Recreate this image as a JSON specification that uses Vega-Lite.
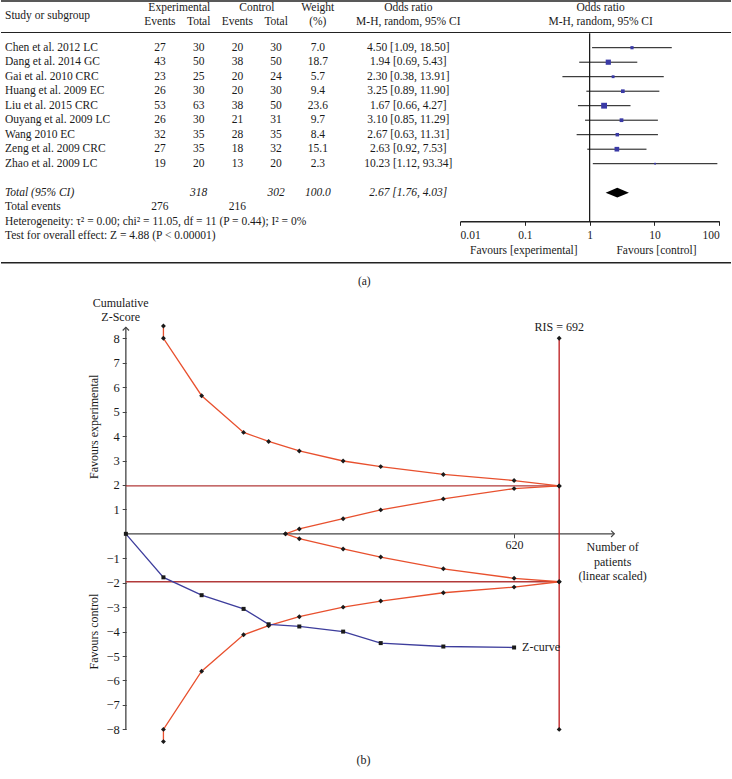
{
  "$schema": "https://vega.github.io/schema/vega-lite/v6.json",
  "width": 732,
  "height": 779,
  "autosize": {"type": "fit", "contains": "padding"},
  "padding": 0,
  "background": "white",
  "config": {
    "view": {"stroke": null},
    "font": "Liberation Serif",
    "text": {"font": "Liberation Serif", "fontSize": 11.5, "color": "#1a1a1a", "baseline": "middle"}
  },
  "datasets": {
    "studies": [
      {"study": "Chen et al. 2012 LC", "ee": 27, "et": 30, "ce": 20, "ct": 30, "w": 7.0, "or": 4.50, "lo": 1.09, "hi": 18.50, "ci": "4.50 [1.09, 18.50]"},
      {"study": "Dang et al. 2014 GC", "ee": 43, "et": 50, "ce": 38, "ct": 50, "w": 18.7, "or": 1.94, "lo": 0.69, "hi": 5.43, "ci": "1.94 [0.69, 5.43]"},
      {"study": "Gai et al. 2010 CRC", "ee": 23, "et": 25, "ce": 20, "ct": 24, "w": 5.7, "or": 2.30, "lo": 0.38, "hi": 13.91, "ci": "2.30 [0.38, 13.91]"},
      {"study": "Huang et al. 2009 EC", "ee": 26, "et": 30, "ce": 20, "ct": 30, "w": 9.4, "or": 3.25, "lo": 0.89, "hi": 11.90, "ci": "3.25 [0.89, 11.90]"},
      {"study": "Liu et al. 2015 CRC", "ee": 53, "et": 63, "ce": 38, "ct": 50, "w": 23.6, "or": 1.67, "lo": 0.66, "hi": 4.27, "ci": "1.67 [0.66, 4.27]"},
      {"study": "Ouyang et al. 2009 LC", "ee": 26, "et": 30, "ce": 21, "ct": 31, "w": 9.7, "or": 3.10, "lo": 0.85, "hi": 11.29, "ci": "3.10 [0.85, 11.29]"},
      {"study": "Wang 2010 EC", "ee": 32, "et": 35, "ce": 28, "ct": 35, "w": 8.4, "or": 2.67, "lo": 0.63, "hi": 11.31, "ci": "2.67 [0.63, 11.31]"},
      {"study": "Zeng et al. 2009 CRC", "ee": 27, "et": 35, "ce": 18, "ct": 32, "w": 15.1, "or": 2.63, "lo": 0.92, "hi": 7.53, "ci": "2.63 [0.92, 7.53]"},
      {"study": "Zhao et al. 2009 LC", "ee": 19, "et": 20, "ce": 13, "ct": 20, "w": 2.3, "or": 10.23, "lo": 1.12, "hi": 93.34, "ci": "10.23 [1.12, 93.34]"}
    ],
    "boundaries": [
      {"series": "upper", "n": 60, "z": 8.5}, {"series": "upper", "n": 60, "z": 8.0}, {"series": "upper", "n": 121, "z": 5.65}, {"series": "upper", "n": 188, "z": 4.15}, {"series": "upper", "n": 228, "z": 3.78}, {"series": "upper", "n": 277, "z": 3.39}, {"series": "upper", "n": 347, "z": 2.98}, {"series": "upper", "n": 407, "z": 2.75}, {"series": "upper", "n": 507, "z": 2.43}, {"series": "upper", "n": 620, "z": 2.18}, {"series": "upper", "n": 692, "z": 1.96},
      {"series": "lower", "n": 60, "z": -8.5}, {"series": "lower", "n": 60, "z": -8.0}, {"series": "lower", "n": 121, "z": -5.62}, {"series": "lower", "n": 188, "z": -4.13}, {"series": "lower", "n": 228, "z": -3.76}, {"series": "lower", "n": 277, "z": -3.39}, {"series": "lower", "n": 347, "z": -3.0}, {"series": "lower", "n": 407, "z": -2.75}, {"series": "lower", "n": 507, "z": -2.41}, {"series": "lower", "n": 620, "z": -2.18}, {"series": "lower", "n": 692, "z": -1.96},
      {"series": "upperInner", "n": 255, "z": 0}, {"series": "upperInner", "n": 277, "z": 0.2}, {"series": "upperInner", "n": 347, "z": 0.62}, {"series": "upperInner", "n": 407, "z": 0.98}, {"series": "upperInner", "n": 507, "z": 1.43}, {"series": "upperInner", "n": 620, "z": 1.85}, {"series": "upperInner", "n": 692, "z": 1.96},
      {"series": "lowerInner", "n": 255, "z": 0}, {"series": "lowerInner", "n": 277, "z": -0.2}, {"series": "lowerInner", "n": 347, "z": -0.62}, {"series": "lowerInner", "n": 407, "z": -0.95}, {"series": "lowerInner", "n": 507, "z": -1.43}, {"series": "lowerInner", "n": 620, "z": -1.82}, {"series": "lowerInner", "n": 692, "z": -1.96}
    ],
    "zcurve": [
      {"n": 0, "z": 0}, {"n": 60, "z": -1.78}, {"n": 121, "z": -2.51}, {"n": 188, "z": -3.07}, {"n": 228, "z": -3.70}, {"n": 277, "z": -3.79}, {"n": 347, "z": -4.0}, {"n": 407, "z": -4.47}, {"n": 507, "z": -4.61}, {"n": 620, "z": -4.65}
    ]
  },
  "resolve": {
    "scale": {"x": "independent", "y": "independent", "size": "independent"},
    "axis": {"x": "independent", "y": "independent"}
  },
  "layer": [
    {
      "data": {"name": "studies"},
      "layer": [
        {
          "mark": {"type": "text", "align": "left"},
          "encoding": {
            "x": {"datum": "name", "type": "nominal", "scale": {"type": "point", "domain": ["name", "c1", "c2", "c3", "ee", "et", "ce", "ct", "w", "c9", "or"], "range": [4, 391.3], "padding": 0}, "axis": null},
            "y": {"field": "study", "type": "nominal", "scale": {"type": "point", "domain": ["hdr1", "hdr2", "hdr3", "Chen et al. 2012 LC", "Dang et al. 2014 GC", "Gai et al. 2010 CRC", "Huang et al. 2009 EC", "Liu et al. 2015 CRC", "Ouyang et al. 2009 LC", "Wang 2010 EC", "Zeng et al. 2009 CRC", "Zhao et al. 2009 LC", "gap", "Total (95% CI)", "Total events", "Heterogeneity", "Test", "fav", "border", "label"], "range": [4.2, 279.7], "padding": 0}, "axis": null},
            "text": {"field": "study", "type": "nominal"}
          }
        },
        {"mark": {"type": "text", "align": "center"}, "encoding": {"x": {"datum": "ee", "type": "nominal"}, "y": {"field": "study", "type": "nominal"}, "text": {"field": "ee", "type": "quantitative", "format": "d"}}},
        {"mark": {"type": "text", "align": "center"}, "encoding": {"x": {"datum": "et", "type": "nominal"}, "y": {"field": "study", "type": "nominal"}, "text": {"field": "et", "type": "quantitative", "format": "d"}}},
        {"mark": {"type": "text", "align": "center"}, "encoding": {"x": {"datum": "ce", "type": "nominal"}, "y": {"field": "study", "type": "nominal"}, "text": {"field": "ce", "type": "quantitative", "format": "d"}}},
        {"mark": {"type": "text", "align": "center"}, "encoding": {"x": {"datum": "ct", "type": "nominal"}, "y": {"field": "study", "type": "nominal"}, "text": {"field": "ct", "type": "quantitative", "format": "d"}}},
        {"mark": {"type": "text", "align": "center", "dx": 3}, "encoding": {"x": {"datum": "w", "type": "nominal"}, "y": {"field": "study", "type": "nominal"}, "text": {"field": "w", "type": "quantitative", "format": ".1f"}}},
        {"mark": {"type": "text", "align": "center", "dx": 16}, "encoding": {"x": {"datum": "or", "type": "nominal"}, "y": {"field": "study", "type": "nominal"}, "text": {"field": "ci", "type": "nominal"}}},
        {
          "data": {"values": [{"row": "hdr2", "col": "ee", "text": "Events"}, {"row": "hdr2", "col": "et", "text": "Total"}, {"row": "hdr2", "col": "ce", "text": "Events"}, {"row": "hdr2", "col": "ct", "text": "Total"}]},
          "mark": {"type": "text", "align": "center", "dy": 3.6},
          "encoding": {"x": {"field": "col", "type": "nominal"}, "y": {"field": "row", "type": "nominal"}, "text": {"field": "text", "type": "nominal"}}
        },
        {
          "data": {"values": [{"row": "hdr1", "text": "Weight"}, {"row": "hdr2", "text": "(%)"}]},
          "mark": {"type": "text", "align": "center", "dy": 3.6, "dx": 3},
          "encoding": {"x": {"datum": "w", "type": "nominal"}, "y": {"field": "row", "type": "nominal"}, "text": {"field": "text", "type": "nominal"}}
        },
        {
          "data": {"values": [{"row": "hdr1", "text": "Odds ratio"}, {"row": "hdr2", "text": "M-H, random, 95% CI"}]},
          "mark": {"type": "text", "align": "center", "dy": 3.6, "dx": 16},
          "encoding": {"x": {"datum": "or", "type": "nominal"}, "y": {"field": "row", "type": "nominal"}, "text": {"field": "text", "type": "nominal"}}
        },
        {
          "data": {"values": [{"col": "ee", "text": "Experimental"}, {"col": "ce", "text": "Control"}]},
          "mark": {"type": "text", "align": "center", "dy": 3.6, "dx": 19.4},
          "encoding": {"x": {"field": "col", "type": "nominal"}, "y": {"datum": "hdr1", "type": "nominal"}, "text": {"field": "text", "type": "nominal"}}
        },
        {
          "data": {"values": [{"text": "Study or subgroup"}]},
          "mark": {"type": "text", "align": "left", "dy": -3},
          "encoding": {"x": {"datum": "name", "type": "nominal"}, "y": {"datum": "hdr2", "type": "nominal"}, "text": {"field": "text", "type": "nominal"}}
        },
        {
          "data": {"values": [{"row": "Total (95% CI)", "text": "Total (95% CI)"}]},
          "mark": {"type": "text", "align": "left", "fontStyle": "italic"},
          "encoding": {"x": {"datum": "name", "type": "nominal"}, "y": {"field": "row", "type": "nominal"}, "text": {"field": "text", "type": "nominal"}}
        },
        {
          "data": {"values": [{"col": "et", "text": "318"}, {"col": "ct", "text": "302"}]},
          "mark": {"type": "text", "align": "center", "fontStyle": "italic"},
          "encoding": {"x": {"field": "col", "type": "nominal"}, "y": {"datum": "Total (95% CI)", "type": "nominal"}, "text": {"field": "text", "type": "nominal"}}
        },
        {
          "data": {"values": [{"text": "100.0"}]},
          "mark": {"type": "text", "align": "center", "fontStyle": "italic", "dx": 3},
          "encoding": {"x": {"datum": "w", "type": "nominal"}, "y": {"datum": "Total (95% CI)", "type": "nominal"}, "text": {"field": "text", "type": "nominal"}}
        },
        {
          "data": {"values": [{"text": "2.67 [1.76, 4.03]"}]},
          "mark": {"type": "text", "align": "center", "fontStyle": "italic", "dx": 16},
          "encoding": {"x": {"datum": "or", "type": "nominal"}, "y": {"datum": "Total (95% CI)", "type": "nominal"}, "text": {"field": "text", "type": "nominal"}}
        },
        {
          "data": {"values": [{"col": "ee", "text": "276"}, {"col": "ce", "text": "216"}]},
          "mark": {"type": "text", "align": "center"},
          "encoding": {"x": {"field": "col", "type": "nominal"}, "y": {"datum": "Total events", "type": "nominal"}, "text": {"field": "text", "type": "nominal"}}
        },
        {
          "data": {"values": [{"row": "Total events", "text": "Total events"}, {"row": "Heterogeneity", "text": "Heterogeneity: τ² = 0.00; chi² = 11.05, df = 11 (P = 0.44); I² = 0%"}, {"row": "Test", "text": "Test for overall effect: Z = 4.88 (P < 0.00001)"}]},
          "mark": {"type": "text", "align": "left"},
          "encoding": {"x": {"datum": "name", "type": "nominal"}, "y": {"field": "row", "type": "nominal"}, "text": {"field": "text", "type": "nominal"}}
        },
        {
          "data": {"values": [{}]},
          "mark": {"type": "rule", "color": "#222", "strokeWidth": 1.6, "yOffset": -3.2},
          "encoding": {"y": {"datum": "hdr1", "type": "nominal"}}
        },
        {
          "data": {"values": [{}]},
          "mark": {"type": "rule", "color": "#222", "strokeWidth": 1, "yOffset": -0.7},
          "encoding": {"y": {"datum": "hdr3", "type": "nominal"}}
        },
        {
          "data": {"values": [{}]},
          "mark": {"type": "rule", "color": "#222", "strokeWidth": 1.6, "yOffset": -2.5},
          "encoding": {"y": {"datum": "border", "type": "nominal"}}
        },
        {
          "data": {"values": [{"text": "(a)"}]},
          "mark": {"type": "text", "align": "center", "dx": 10.7, "dy": 2},
          "encoding": {"x": {"datum": "c9", "type": "nominal"}, "y": {"datum": "label", "type": "nominal"}, "text": {"field": "text", "type": "nominal"}}
        }
      ]
    },
    {
      "data": {"name": "studies"},
      "layer": [
        {
          "mark": {"type": "rule", "color": "#111", "strokeWidth": 1},
          "encoding": {
            "x": {"field": "lo", "type": "quantitative", "scale": {"type": "log", "domain": [0.01, 100], "range": [459, 718.3], "nice": false}, "axis": {"orient": "bottom", "offset": -557.7, "values": [0.01, 0.1, 1, 10, 100], "format": "~g", "domain": true, "domainColor": "#222", "domainWidth": 1.4, "ticks": true, "tickColor": "#222", "tickSize": 4, "grid": false, "title": null, "labelFont": "Liberation Serif", "labelFontSize": 11.5, "labelColor": "#1a1a1a", "labelPadding": 4}},
            "x2": {"field": "hi"},
            "y": {"field": "study", "type": "nominal", "scale": {"type": "point", "domain": ["hdr1", "hdr2", "hdr3", "Chen et al. 2012 LC", "Dang et al. 2014 GC", "Gai et al. 2010 CRC", "Huang et al. 2009 EC", "Liu et al. 2015 CRC", "Ouyang et al. 2009 LC", "Wang 2010 EC", "Zeng et al. 2009 CRC", "Zhao et al. 2009 LC", "gap", "Total (95% CI)", "Total events", "Heterogeneity", "Test", "fav", "border", "label"], "range": [4.2, 279.7], "padding": 0}, "axis": null}
          }
        },
        {
          "mark": {"type": "point", "shape": "square", "filled": true, "color": "#3a3aa6", "opacity": 1},
          "encoding": {
            "x": {"field": "or", "type": "quantitative"},
            "y": {"field": "study", "type": "nominal"},
            "size": {"field": "w", "type": "quantitative", "scale": {"domain": [0, 25], "range": [0, 36]}, "legend": null}
          }
        },
        {
          "data": {"values": [{}]},
          "mark": {"type": "rule", "color": "#111", "strokeWidth": 1.2},
          "encoding": {"x": {"datum": 1, "type": "quantitative"}, "y": {"datum": "hdr3", "type": "nominal"}, "y2": {"datum": "Heterogeneity"}}
        },
        {
          "data": {"values": [{"label": "Total (95% CI)", "or": 2.67, "lo": 1.76, "hi": 4.03}]},
          "mark": {"type": "point", "shape": "M-1,0L0,-0.42L1,0L0,0.42Z", "filled": true, "color": "#000", "opacity": 1, "size": 543},
          "encoding": {"x": {"field": "or", "type": "quantitative"}, "y": {"field": "label", "type": "nominal"}}
        },
        {
          "data": {"values": [{"text": "Favours [experimental]"}]},
          "mark": {"type": "text", "align": "center", "dx": -1},
          "encoding": {"x": {"datum": 0.1, "type": "quantitative"}, "y": {"datum": "fav", "type": "nominal"}, "text": {"field": "text", "type": "nominal"}}
        },
        {
          "data": {"values": [{"text": "Favours [control]"}]},
          "mark": {"type": "text", "align": "center", "dx": 2},
          "encoding": {"x": {"datum": 10, "type": "quantitative"}, "y": {"datum": "fav", "type": "nominal"}, "text": {"field": "text", "type": "nominal"}}
        },
        {
          "data": {"values": [{"row": "hdr1", "text": "Odds ratio"}, {"row": "hdr2", "text": "M-H, random, 95% CI"}]},
          "mark": {"type": "text", "align": "center", "dx": 11, "dy": 3.6},
          "encoding": {"x": {"datum": 1, "type": "quantitative"}, "y": {"field": "row", "type": "nominal"}, "text": {"field": "text", "type": "nominal"}}
        }
      ]
    },
    {
      "layer": [
        {
          "data": {"values": [{}]},
          "mark": {"type": "rule", "color": "#444", "strokeWidth": 1.3},
          "encoding": {"x": {"datum": 0, "type": "quantitative"}, "x2": {"datum": 780}, "y": {"datum": 0, "type": "quantitative"}}
        },
        {
          "data": {"values": [{}]},
          "mark": {"type": "rule", "color": "#444", "strokeWidth": 1.3},
          "encoding": {"x": {"datum": 0, "type": "quantitative"}, "y": {"datum": -8, "type": "quantitative"}, "y2": {"datum": 8.45}}
        },
        {
          "data": {"values": [{}]},
          "mark": {"type": "point", "shape": "M-1,1L0,0L1,1", "filled": false, "color": "#444", "strokeWidth": 1.2, "size": 40, "opacity": 1},
          "encoding": {"x": {"datum": 0, "type": "quantitative"}, "y": {"datum": 8.45, "type": "quantitative"}}
        },
        {
          "data": {"values": [{}]},
          "mark": {"type": "point", "shape": "M-1,-1L0,0L-1,1", "filled": false, "color": "#444", "strokeWidth": 1.2, "size": 40, "opacity": 1},
          "encoding": {"x": {"datum": 780, "type": "quantitative"}, "y": {"datum": 0, "type": "quantitative"}}
        },
        {
          "data": {"values": [{"z": 1.96}, {"z": -1.96}]},
          "mark": {"type": "rule", "color": "#b23a3a", "strokeWidth": 1.3},
          "encoding": {"x": {"datum": 0, "type": "quantitative"}, "x2": {"datum": 692}, "y": {"field": "z", "type": "quantitative"}}
        },
        {
          "data": {"values": [{}]},
          "mark": {"type": "rule", "color": "#c0282b", "strokeWidth": 1.4},
          "encoding": {"x": {"datum": 692, "type": "quantitative"}, "y": {"datum": -8, "type": "quantitative"}, "y2": {"datum": 8}}
        },
        {
          "data": {"name": "boundaries"},
          "mark": {"type": "line", "color": "#e8502e", "strokeWidth": 1.3},
          "encoding": {
            "x": {"field": "n", "type": "quantitative", "scale": {"domain": [-199.4, 966.4], "nice": false, "zero": false}, "axis": {"orient": "bottom", "offset": -245.2, "values": [620], "format": "d", "domain": false, "grid": false, "ticks": true, "tickSize": 4, "tickColor": "#444", "title": null, "labelFont": "Liberation Serif", "labelFontSize": 12, "labelColor": "#1a1a1a", "labelPadding": 2}},
            "y": {"field": "z", "type": "quantitative", "scale": {"domain": [-10.03, 21.84], "nice": false, "zero": false}, "axis": {"orient": "left", "offset": -125.2, "values": [-8, -7, -6, -5, -4, -3, -2, -1, 1, 2, 3, 4, 5, 6, 7, 8], "format": "d", "domain": false, "grid": false, "ticks": true, "tickSize": 4, "tickColor": "#444", "title": null, "labelFont": "Liberation Serif", "labelFontSize": 12.5, "labelColor": "#1a1a1a", "labelPadding": 3}},
            "detail": {"field": "series", "type": "nominal"},
            "order": {"value": null}
          }
        },
        {
          "data": {"name": "boundaries"},
          "mark": {"type": "point", "shape": "diamond", "filled": true, "color": "#1a1a1a", "size": 24, "opacity": 1},
          "encoding": {"x": {"field": "n", "type": "quantitative"}, "y": {"field": "z", "type": "quantitative"}}
        },
        {
          "data": {"values": [{"n": 692, "z": 8}, {"n": 692, "z": -8}]},
          "mark": {"type": "point", "shape": "diamond", "filled": true, "color": "#1a1a1a", "size": 24, "opacity": 1},
          "encoding": {"x": {"field": "n", "type": "quantitative"}, "y": {"field": "z", "type": "quantitative"}}
        },
        {
          "data": {"name": "zcurve"},
          "mark": {"type": "line", "color": "#3d3d9c", "strokeWidth": 1.3},
          "encoding": {"x": {"field": "n", "type": "quantitative"}, "y": {"field": "z", "type": "quantitative"}}
        },
        {
          "data": {"name": "zcurve"},
          "mark": {"type": "point", "shape": "square", "filled": true, "color": "#1a1a1a", "size": 16, "opacity": 1},
          "encoding": {"x": {"field": "n", "type": "quantitative"}, "y": {"field": "z", "type": "quantitative"}}
        },
        {
          "data": {"values": [{"text": "Z-curve"}]},
          "mark": {"type": "text", "align": "left", "dx": 8, "fontSize": 12},
          "encoding": {"x": {"datum": 620, "type": "quantitative"}, "y": {"datum": -4.65, "type": "quantitative"}, "text": {"field": "text", "type": "nominal"}}
        },
        {
          "data": {"values": [{"text": "RIS = 692"}]},
          "mark": {"type": "text", "align": "center", "baseline": "middle", "fontSize": 12},
          "encoding": {"x": {"datum": 692, "type": "quantitative"}, "y": {"datum": 8.47, "type": "quantitative"}, "text": {"field": "text", "type": "nominal"}}
        },
        {
          "data": {"values": [{}]},
          "mark": {"type": "text", "align": "center", "baseline": "alphabetic", "fontSize": 12, "lineHeight": 14.2, "text": ["Number of", "patients", "(linear scaled)"]},
          "encoding": {"x": {"datum": 777.4, "type": "quantitative"}, "y": {"datum": -0.716, "type": "quantitative"}}
        },
        {
          "data": {"values": [{}]},
          "mark": {"type": "text", "align": "center", "baseline": "alphabetic", "fontSize": 12, "lineHeight": 13.7, "text": ["Cumulative", "Z-Score"]},
          "encoding": {"x": {"datum": -8.3, "type": "quantitative"}, "y": {"datum": 9.28, "type": "quantitative"}}
        },
        {
          "data": {"values": [{"text": "Favours experimental"}]},
          "mark": {"type": "text", "align": "center", "baseline": "middle", "angle": 270, "fontSize": 12},
          "encoding": {"x": {"datum": -50.8, "type": "quantitative"}, "y": {"datum": 4.38, "type": "quantitative"}, "text": {"field": "text", "type": "nominal"}}
        },
        {
          "data": {"values": [{"text": "Favours control"}]},
          "mark": {"type": "text", "align": "center", "baseline": "middle", "angle": 270, "fontSize": 12},
          "encoding": {"x": {"datum": -50.8, "type": "quantitative"}, "y": {"datum": -4.0, "type": "quantitative"}, "text": {"field": "text", "type": "nominal"}}
        },
        {
          "data": {"values": [{"text": "(b)"}]},
          "mark": {"type": "text", "align": "center", "baseline": "middle", "fontSize": 12},
          "encoding": {"x": {"datum": 379.4, "type": "quantitative"}, "y": {"datum": -9.26, "type": "quantitative"}, "text": {"field": "text", "type": "nominal"}}
        }
      ]
    }
  ]
}
